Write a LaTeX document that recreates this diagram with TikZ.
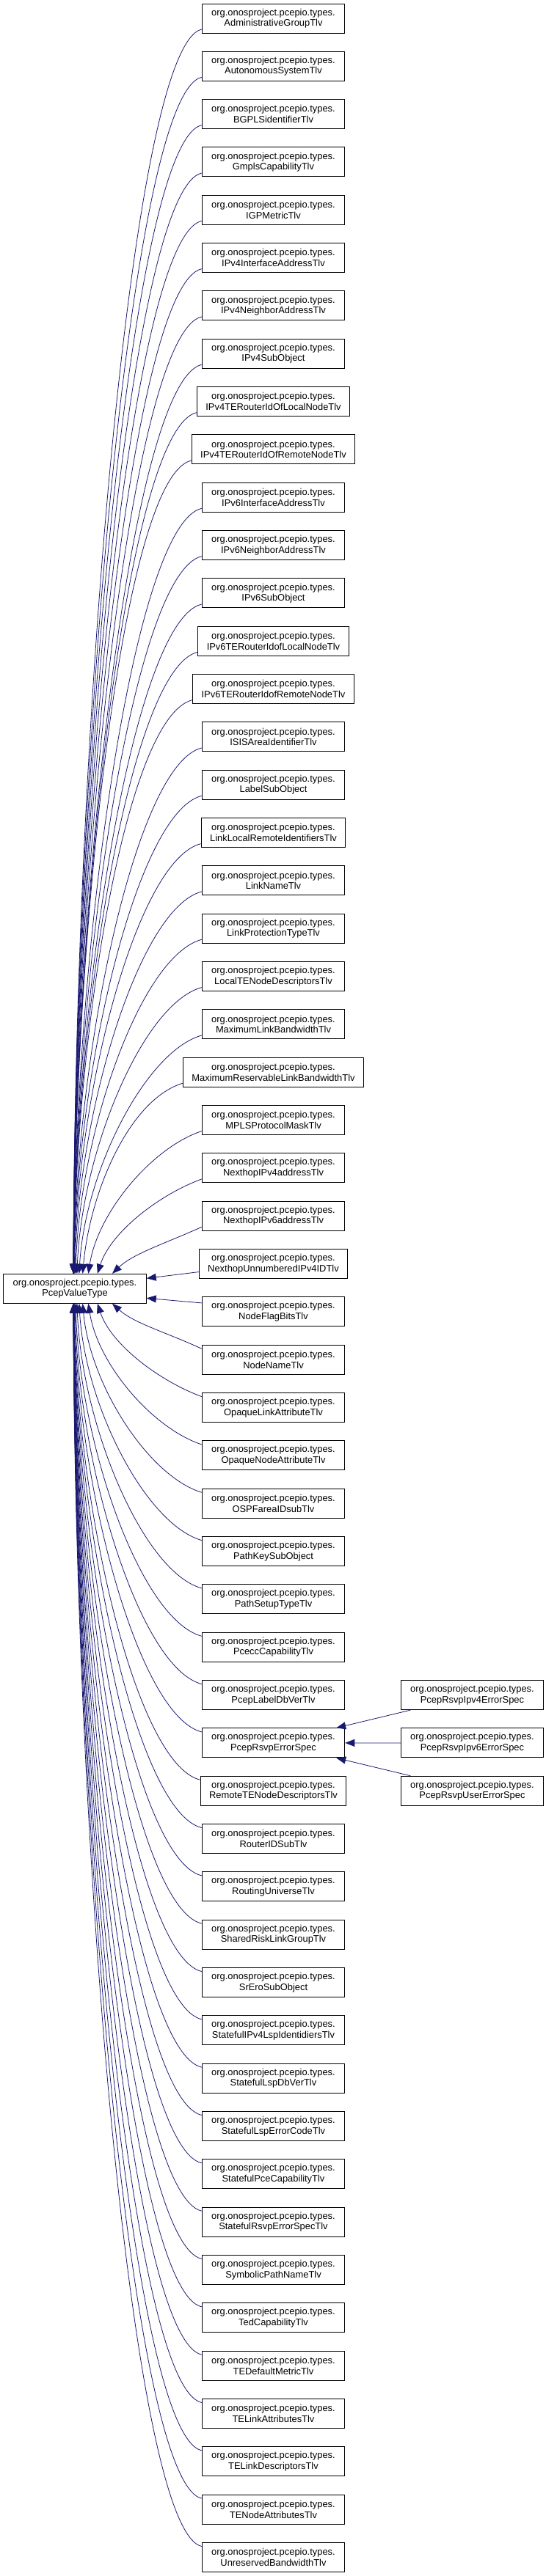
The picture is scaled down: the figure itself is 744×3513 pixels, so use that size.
\documentclass[tikz,border=0pt]{standalone}
\usepackage{fontspec}
\setmainfont{Liberation Sans}
\usetikzlibrary{arrows.meta, positioning}
\definecolor{edgeblue}{RGB}{25,25,112}

\begin{document}
\begin{tikzpicture}[x=1pt, y=-1pt, >={Triangle[length=13pt, width=10pt]},
      cls/.style={draw=black, line width=1pt, minimum height=40pt, minimum width=194.5pt,
                  inner xsep=12pt, inner ysep=0pt, align=center,
                  font=\fontsize{12.9}{14.6}\selectfont},
      inh/.style={->, edgeblue, line width=0.8pt}]

    \useasboundingbox (0,0) rectangle (744,3513);

    % base class
    \node[cls] (pvt) at (102, 1757.3) {org.onosproject.pcepio.types.\\PcepValueType};

    % direct subclasses, one column
    \foreach \nm [count=\i] in {AdministrativeGroupTlv, AutonomousSystemTlv, BGPLSidentifierTlv,
        GmplsCapabilityTlv, IGPMetricTlv, IPv4InterfaceAddressTlv, IPv4NeighborAddressTlv,
        IPv4SubObject, IPv4TERouterIdOfLocalNodeTlv, IPv4TERouterIdOfRemoteNodeTlv,
        IPv6InterfaceAddressTlv, IPv6NeighborAddressTlv, IPv6SubObject,
        IPv6TERouterIdofLocalNodeTlv, IPv6TERouterIdofRemoteNodeTlv, ISISAreaIdentifierTlv,
        LabelSubObject, LinkLocalRemoteIdentifiersTlv, LinkNameTlv, LinkProtectionTypeTlv,
        LocalTENodeDescriptorsTlv, MaximumLinkBandwidthTlv, MaximumReservableLinkBandwidthTlv,
        MPLSProtocolMaskTlv, NexthopIPv4addressTlv, NexthopIPv6addressTlv,
        NexthopUnnumberedIPv4IDTlv, NodeFlagBitsTlv, NodeNameTlv, OpaqueLinkAttributeTlv,
        OpaqueNodeAttributeTlv, OSPFareaIDsubTlv, PathKeySubObject, PathSetupTypeTlv,
        PceccCapabilityTlv, PcepLabelDbVerTlv, PcepRsvpErrorSpec, RemoteTENodeDescriptorsTlv,
        RouterIDSubTlv, RoutingUniverseTlv, SharedRiskLinkGroupTlv, SrEroSubObject,
        StatefulIPv4LspIdentidiersTlv, StatefulLspDbVerTlv, StatefulLspErrorCodeTlv,
        StatefulPceCapabilityTlv, StatefulRsvpErrorSpecTlv, SymbolicPathNameTlv,
        TedCapabilityTlv, TEDefaultMetricTlv, TELinkAttributesTlv, TELinkDescriptorsTlv,
        TENodeAttributesTlv, UnreservedBandwidthTlv}
      \node[cls] (t\i) at (372.5, {25+(\i-1)*65.33}) {org.onosproject.pcepio.types.\\\nm};

    % subclasses of PcepRsvpErrorSpec
    \node[cls] (ipv4) at (643.5, 2311.6) {org.onosproject.pcepio.types.\\PcepRsvpIpv4ErrorSpec};
    \node[cls] (ipv6) at (643.5, 2376.9) {org.onosproject.pcepio.types.\\PcepRsvpIpv6ErrorSpec};
    \node[cls] (user) at (643.5, 2442.2) {org.onosproject.pcepio.types.\\PcepRsvpUserErrorSpec};

    % upper fan into the top of the base class
    \foreach \i in {1,...,26} {
      \pgfmathsetmacro\dst{1697.3-(\i-1)*65.33}
      \pgfmathsetmacro\xo{-2+53*0.62^(26-\i)}
      \pgfmathsetmacro\ctl{30+75/(1+200/\dst)}
      \pgfmathsetmacro\rise{0.43*\dst}
      \pgfmathsetmacro\lean{3000/(\dst+40)}
      \draw[inh] ([yshift=-15pt]t\i.west) .. controls +(-\ctl,22) and +(\lean,-\rise)
        .. ([xshift=\xo pt]pvt.north);
    }

    % the two closest ones go to the side
    \draw[inh] ([yshift=-11pt]t27.west) -- ([yshift=14pt]pvt.east);
    \draw[inh] ([yshift=12pt]t28.west) -- ([yshift=-13pt]pvt.east);

    % lower fan into the bottom
    \foreach \i in {29,...,54} {
      \pgfmathsetmacro\dst{(\i-1)*65.33-1767.3}
      \pgfmathsetmacro\xo{-2+53*0.62^(\i-29)}
      \pgfmathsetmacro\ctl{30+75/(1+200/\dst)}
      \pgfmathsetmacro\rise{0.43*\dst}
      \pgfmathsetmacro\lean{3000/(\dst+40)}
      \draw[inh] ([yshift=15pt]t\i.west) .. controls +(-\ctl,-22) and +(\lean,\rise)
        .. ([xshift=\xo pt]pvt.south);
    }

    % error spec subclasses
    \draw[inh] ([xshift=13.6pt]ipv4.south west) -- ([xshift=-12pt]t37.north east);
    \draw[inh] (ipv6.west) -- (t37.east);
    \draw[inh] ([xshift=13.6pt]user.north west) -- ([xshift=-12pt]t37.south east);

\end{tikzpicture}
\end{document}
